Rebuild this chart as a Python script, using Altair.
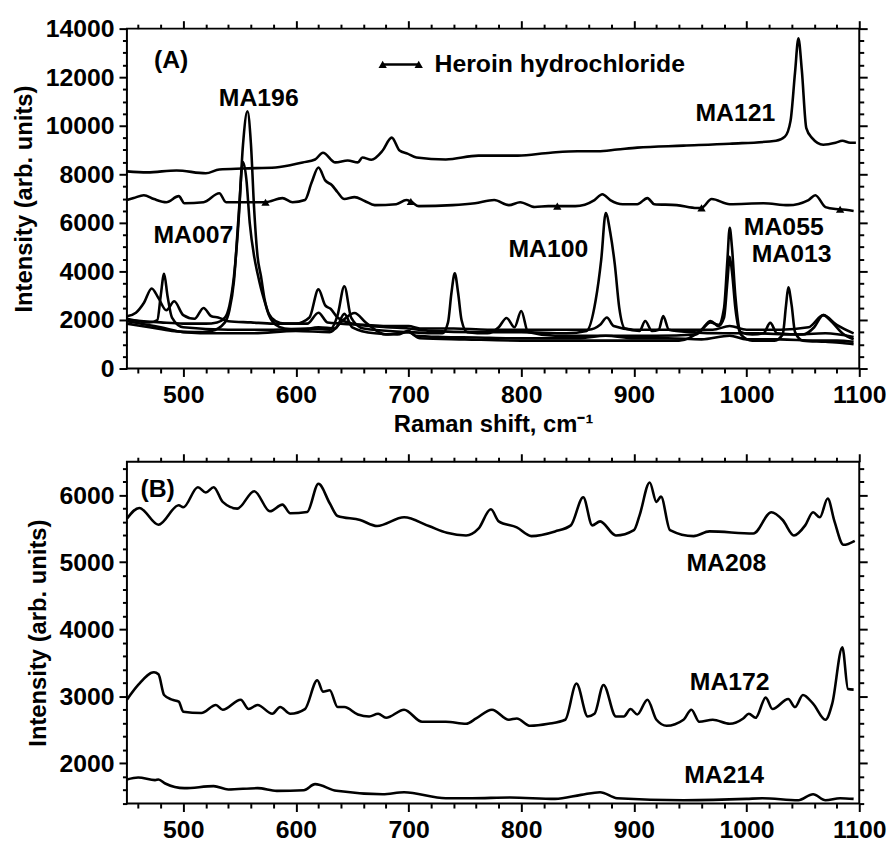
import altair as alt
import pandas as pd

FONT = "Liberation Sans"

# ---------------- Panel A data (Raman shift, intensity) ----------------
MA121_x = [450, 468, 494, 520, 532, 553, 582, 606, 617, 624, 635, 646, 655, 659, 667, 677, 685, 692, 699, 707,
           733, 762, 797, 826, 850, 868, 885, 903, 944, 985, 1026, 1034, 1039, 1043, 1046, 1049, 1053, 1058,
           1068, 1079, 1085, 1092, 1097]
MA121_y = [8120, 8080, 8160, 8040, 8200, 8240, 8280, 8490, 8610, 8890, 8490, 8570, 8490, 8690, 8600, 8980, 9510,
           8980, 8850, 8690, 8610, 8770, 8770, 8890, 8950, 8950, 9020, 9100, 9180, 9260, 9380, 9550, 10200, 12200,
           13600, 12300, 9900, 9500, 9220, 9300, 9380, 9300, 9300]

HEROIN_x = [450, 456, 465, 474, 485, 496, 501, 518, 532, 538, 547, 573, 588, 597, 608, 614, 620, 626, 632, 637,
            643, 652, 661, 670, 689, 698, 702, 709, 739, 759, 776, 789, 799, 812, 824, 832, 848, 865, 872, 879,
            890, 903, 912, 918, 938, 956, 960, 969, 985, 1015, 1037, 1055, 1061, 1070, 1079, 1083, 1095]
HEROIN_y = [6940, 7020, 7140, 6980, 6850, 7100, 6810, 6850, 7220, 6850, 6850, 6850, 7020, 6850, 6940, 7670, 8280,
            7750, 7550, 7260, 6980, 7060, 6900, 6730, 6770, 6940, 6880, 6690, 6730, 6810, 6940, 6730, 6850, 6650,
            6690, 6690, 6690, 6940, 7180, 6940, 6770, 6770, 7020, 6770, 6730, 6610, 6620, 6980, 6770, 6810, 6730,
            6940, 7140, 6650, 6570, 6560, 6490]
HEROIN_markers = [573, 702, 832, 960, 1083]

MA196_x = [450, 465, 480, 500, 520, 530, 537, 541, 545, 549, 553, 557, 560, 563, 566, 569, 572, 576, 582, 590,
           610, 620, 628, 640, 660, 680, 700, 710, 740, 770, 800, 830, 860, 870, 876, 882, 900, 940, 970, 985,
           1000, 1030, 1055, 1068, 1080, 1095]
MA196_y = [2000, 1950, 1900, 1850, 1850, 1900, 2100, 2600, 3800, 6000, 9200, 10600, 9300, 6500, 4600, 3800, 2900,
           2250, 1950, 1850, 1850, 2300, 1900, 1850, 1800, 1750, 1750, 1650, 1650, 1600, 1600, 1600, 1600, 1800,
           2100, 1750, 1600, 1600, 1600, 1750, 1600, 1600, 1700, 2200, 1800, 1450]

MA007_x = [450, 470, 490, 510, 525, 537, 541, 545, 549, 553, 556, 559, 563, 566, 569, 572, 576, 582, 590, 605,
           620, 635, 643, 650, 670, 690, 700, 706, 730, 760, 790, 820, 850, 875, 900, 930, 960, 985, 1000, 1030,
           1060, 1080, 1095]
MA007_y = [1850, 1700, 1550, 1500, 1550, 1900, 2400, 3600, 6200, 8500, 7800, 6000, 4600, 3900, 3300, 2800, 2200,
           1800, 1650, 1600, 1700, 1650, 2250, 1700, 1450, 1400, 1550, 1350, 1300, 1280, 1250, 1250, 1250, 1350,
           1250, 1250, 1200, 1350, 1200, 1200, 1150, 1150, 1100]

MA100_x = [450, 458, 465, 472, 478, 485, 492, 500, 510, 518, 525, 531, 540, 560, 580, 600, 612, 620, 626, 631,
           637, 650, 680, 700, 720, 760, 800, 840, 858, 866, 871, 875, 879, 883, 887, 892, 905, 910, 916, 922,
           926, 931, 950, 980, 1010, 1040, 1070, 1095]
MA100_y = [2150, 2300, 2700, 3300, 2900, 2400, 2770, 2200, 2050, 2490, 2150, 2100, 1950, 1900, 1850, 1850, 2100,
           3260, 2600, 2450, 2100, 1850, 1700, 1650, 1550, 1500, 1500, 1450, 1550, 2800, 4500, 6400, 5600, 4300,
           2500, 1650, 1550, 1960, 1550, 1600, 2160, 1600, 1500, 1450, 1450, 1400, 1450, 1300]

MA055_x = [450, 470, 477, 480, 483, 486, 490, 500, 540, 580, 610, 630, 637, 643, 649, 660, 700, 730, 735, 738,
           741, 744, 747, 752, 770, 780, 787, 794, 800, 806, 830, 870, 920, 955, 968, 975, 980, 983, 985, 987,
           990, 995, 1005, 1015, 1021, 1027, 1050, 1060, 1068, 1076, 1085, 1095]
MA055_y = [2050, 1900, 2000, 3000, 3900, 3000, 2100, 1700, 1600, 1600, 1650, 1600, 2200, 3390, 2100, 1650, 1500,
           1450, 1900, 3100, 3920, 3100, 2000, 1500, 1450, 1700, 2080, 1700, 2370, 1500, 1350, 1350, 1350, 1400,
           1900, 1800, 2500, 4500, 5800, 5000, 3000, 1500, 1400, 1450, 1880, 1450, 1400, 1700, 2200, 1900, 1450,
           1200]

MA013_x = [450, 480, 500, 530, 560, 600, 630, 642, 652, 662, 680, 700, 710, 750, 800, 850, 900, 940, 960, 968,
           975, 980, 983, 985, 987, 990, 995, 1005, 1025, 1032, 1035, 1037, 1040, 1043, 1050, 1070, 1085, 1095]
MA013_y = [1950, 1700, 1500, 1450, 1450, 1550, 1500, 2000, 2290, 1900, 1400, 1500, 1250, 1200, 1150, 1150, 1150,
           1150, 1600, 1960, 1750, 2100, 3600, 4600, 4000, 2500, 1400, 1150, 1150, 1400, 2600, 3350, 2600, 1500,
           1150, 1100, 1050, 1000]

# ---------------- Panel B data ----------------
MA208_x = [450, 461, 478, 496, 500, 513, 520, 527, 535, 548, 563, 577, 588, 595, 610, 620, 630, 637, 657, 672,
           696, 718, 734, 751, 762, 773, 780, 796, 809, 830, 844, 855, 863, 870, 884, 900, 905, 914, 920, 924,
           932, 953, 967, 1006, 1022, 1032, 1042, 1052, 1059, 1065, 1072, 1078, 1086, 1096]
MA208_y = [5650, 5810, 5560, 5850, 5820, 6120, 6040, 6120, 5900, 5800, 6060, 5760, 5860, 5730, 5750, 6170, 5880,
           5690, 5630, 5540, 5670, 5540, 5440, 5400, 5500, 5790, 5610, 5520, 5390, 5460, 5550, 5970, 5550, 5610,
           5400, 5480, 5700, 6190, 5900, 5980, 5480, 5390, 5460, 5430, 5745, 5630, 5400, 5550, 5745, 5670, 5950,
           5610, 5260, 5320]

MA172_x = [450, 460, 474, 478, 483, 490, 496, 500, 516, 529, 535, 551, 558, 566, 579, 586, 595, 608, 619, 624,
           630, 637, 643, 655, 665, 673, 680, 696, 712, 733, 751, 760, 774, 789, 796, 808, 824, 839, 849, 859,
           865, 873, 884, 891, 897, 903, 912, 920, 929, 944, 951, 958, 970, 985, 997, 1002, 1008, 1017, 1023,
           1037, 1043, 1050, 1059, 1070, 1076, 1085, 1090, 1095]
MA172_y = [2950, 3170, 3360, 3330, 3020, 2950, 2920, 2770, 2750, 2870, 2800, 2950, 2810, 2870, 2740, 2840, 2740,
           2810, 3240, 3070, 3090, 2840, 2840, 2730, 2700, 2740, 2680, 2800, 2620, 2620, 2590, 2670, 2800, 2650,
           2670, 2560, 2590, 2650, 3190, 2700, 2740, 3170, 2700, 2700, 2810, 2730, 2950, 2650, 2560, 2650, 2800,
           2620, 2650, 2590, 2670, 2740, 2680, 2980, 2810, 2960, 2840, 3020, 2890, 2650, 2890, 3730, 3110, 3100]

MA214_x = [450, 460, 475, 478, 484, 501, 527, 540, 566, 583, 607, 617, 636, 677, 696, 733, 756, 790, 830, 853,
           870, 885, 944, 1000, 1014, 1046, 1059, 1070, 1083, 1095]
MA214_y = [1760, 1790, 1750, 1760, 1700, 1630, 1660, 1610, 1630, 1590, 1600, 1690, 1590, 1540, 1570, 1480, 1480,
           1490, 1470, 1530, 1570, 1480, 1450, 1470, 1480, 1450, 1540, 1450, 1480, 1470]

# ---------------- Axis ticks ----------------
X_DOMAIN = [450, 1100]
X_MAJOR = [500, 600, 700, 800, 900, 1000, 1100]
X_ALL = list(range(460, 1101, 20))
YA_DOMAIN = [0, 14000]
YA_STEP = 2000
YA_ALL = list(range(0, 14001, 500))
YB_DOMAIN = [1400, 6500]
YB_STEP = 1000
YB_ALL = list(range(1400, 6401, 200))

# ---------------- Annotations ----------------
A_LABELS_C = {"text": ["MA196", "MA121", "MA007", "MA100", "MA055", "MA013"],
              "x": [567, 990, 509, 824, 1033, 1040],
              "y": [11140, 10530, 5510, 4900, 5830, 4730]}
A_LABELS_L = {"text": ["(A)", "Heroin hydrochloride"], "x": [474, 723], "y": [12690, 12525]}
A_LEGEND = {"x": [677, 709], "y": [12525, 12525]}
B_LABELS_C = {"text": ["MA208", "MA172", "MA214"], "x": [982, 985, 980], "y": [4990, 3210, 1830]}
B_LABELS_L = {"text": ["(B)"], "x": [462], "y": [6085]}

XTITLE = "Raman shift, cm\u207b\u00b9"
YTITLE = "Intensity (arb. units)"
W = 739
HA = 343
HB = 345


def series_df(pairs):
    rows = []
    for name, xs, ys in pairs:
        assert len(xs) == len(ys), name
        for a, b in zip(xs, ys):
            rows.append({"series": name, "x": a, "y": b})
    return pd.DataFrame(rows)


def tsize(step):
    return {"condition": {"test": f"datum.value % {step} === 0", "value": 8}, "value": 4.5}


def axis_common(step):
    return dict(ticks=True, tickColor="black", tickWidth=2, tickSize=tsize(step),
                labelFlush=False, labelOverlap=False)


def panel(df, ydomain, ystep, yall, height, labels_c, labels_l, xtitle, extra=None):
    xs = alt.Scale(domain=X_DOMAIN, nice=False, zero=False)
    ys = alt.Scale(domain=ydomain, nice=False, zero=False)
    xaxis = alt.Axis(values=X_ALL, format="d", labelPadding=6, titlePadding=6,
                     labelExpr="datum.value % 100 === 0 ? datum.label : ''", **axis_common(100))
    yaxis = alt.Axis(values=yall, format="d", labelPadding=5, titlePadding=9,
                     labelExpr=f"datum.value % {ystep} === 0 ? datum.label : ''", **axis_common(ystep))
    X = alt.X("x:Q", scale=xs, axis=xaxis, title=xtitle)
    Y = alt.Y("y:Q", scale=ys, axis=yaxis, title=YTITLE)

    layers = [
        alt.Chart(df).mark_line(color="black", strokeWidth=2.6, interpolate="monotone").encode(
            x=X, y=Y, detail="series:N", order="x:Q"),
    ]
    if extra is not None:
        layers += extra(X, Y)

    txt = dict(font=FONT, fontSize=25, fontWeight="bold", color="black", baseline="middle")
    layers.append(alt.Chart(pd.DataFrame(labels_c)).mark_text(align="center", **txt).encode(
        x=X, y=Y, text="text:N"))
    layers.append(alt.Chart(pd.DataFrame(labels_l)).mark_text(align="left", **txt).encode(
        x=X, y=Y, text="text:N"))
    main = alt.layer(*layers)

    # mirrored ticks on the top and right edges
    xaxis2 = alt.Axis(orient="top", values=X_ALL, labels=False, title=None, **axis_common(100))
    yaxis2 = alt.Axis(orient="right", values=yall, labels=False, title=None, **axis_common(ystep))
    mirror = alt.Chart(pd.DataFrame({"x": X_DOMAIN, "y": ydomain})).mark_point(opacity=0).encode(
        x=alt.X("x:Q", scale=xs, axis=xaxis2), y=alt.Y("y:Q", scale=ys, axis=yaxis2))

    return alt.layer(main, mirror).resolve_axis(x="independent", y="independent").properties(
        width=W, height=height)


dfA = series_df([
    ("MA121", MA121_x, MA121_y), ("Heroin hydrochloride", HEROIN_x, HEROIN_y),
    ("MA196", MA196_x, MA196_y), ("MA007", MA007_x, MA007_y), ("MA100", MA100_x, MA100_y),
    ("MA055", MA055_x, MA055_y), ("MA013", MA013_x, MA013_y),
])
dfB = series_df([("MA208", MA208_x, MA208_y), ("MA172", MA172_x, MA172_y), ("MA214", MA214_x, MA214_y)])


def heroin_extra(X, Y):
    her = dfA[(dfA["series"] == "Heroin hydrochloride") & (dfA["x"].isin(HEROIN_markers))]
    leg = pd.DataFrame(A_LEGEND)
    tri = dict(shape="triangle-up", filled=True, color="black", size=70, opacity=1)
    return [
        alt.Chart(her).mark_point(**tri).encode(x=X, y=Y),
        alt.Chart(leg).mark_line(color="black", strokeWidth=2.6).encode(x=X, y=Y),
        alt.Chart(leg).mark_point(**tri).encode(x=X, y=Y),
    ]


chartA = panel(dfA, YA_DOMAIN, YA_STEP, YA_ALL, HA, A_LABELS_C, A_LABELS_L, XTITLE, heroin_extra)
chartB = panel(dfB, YB_DOMAIN, YB_STEP, YB_ALL, HB, B_LABELS_C, B_LABELS_L, None)

chart = alt.vconcat(chartA, chartB, spacing=94, bounds="flush").properties(
    padding={"left": 3, "top": 4, "right": 0, "bottom": 0},
    background="white",
).configure_view(stroke="black", strokeWidth=2).configure_axis(
    grid=False, domain=False,
    labelFont=FONT, labelFontSize=25, labelFontWeight="bold", labelColor="black",
    titleFont=FONT, titleFontSize=24, titleFontWeight="bold", titleColor="black",
)

chart.save("out.html", embed_options={"renderer": "svg", "actions": False})
